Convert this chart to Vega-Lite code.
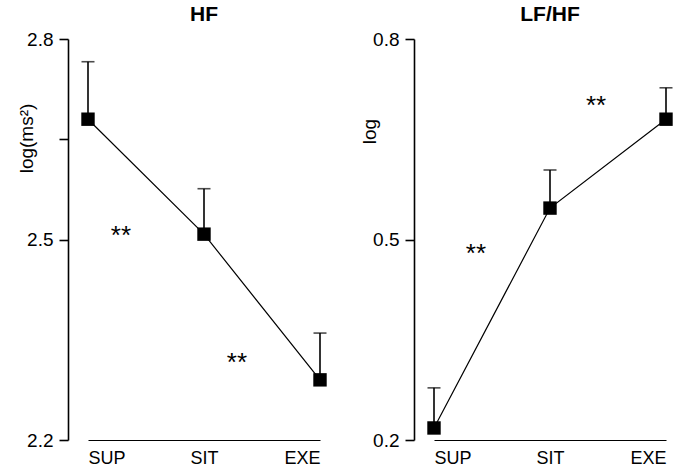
{
  "$schema": "https://vega.github.io/schema/vega-lite/v6.json",
  "padding": {"left": 17, "top": 4, "right": 0, "bottom": 0},
  "config": {
    "view": {"stroke": null},
    "font": "Liberation Sans",
    "concat": {"spacing": 33}
  },
  "datasets": {
    "hf": [
      {"idx": 0, "cond": "SUP", "mean": 2.680, "upper": 2.766},
      {"idx": 1, "cond": "SIT", "mean": 2.508, "upper": 2.576},
      {"idx": 2, "cond": "EXE", "mean": 2.290, "upper": 2.360}
    ],
    "lfhf": [
      {"idx": 0, "cond": "SUP", "mean": 0.218, "upper": 0.278},
      {"idx": 1, "cond": "SIT", "mean": 0.547, "upper": 0.604},
      {"idx": 2, "cond": "EXE", "mean": 0.680, "upper": 0.727}
    ],
    "hfstars": [
      {"pos": 0.284, "val": 2.513, "label": "**"},
      {"pos": 1.284, "val": 2.323, "label": "**"}
    ],
    "lfhfstars": [
      {"pos": 0.362, "val": 0.486, "label": "**"},
      {"pos": 1.397, "val": 0.707, "label": "**"}
    ]
  },
  "hconcat": [
    {
      "width": 232,
      "height": 401,
      "title": {"text": "HF", "fontSize": 21, "fontWeight": "bold", "color": "black", "font": "Liberation Sans", "offset": 5},
      "layer": [
        {
          "data": {"name": "hf"},
          "mark": {"type": "rule", "color": "black", "strokeWidth": 1.6},
          "encoding": {
            "x": {"field": "idx", "type": "quantitative", "scale": {"domain": [0, 2], "nice": false},
              "axis": {"title": null, "grid": false, "values": [0, 1, 2], "labelExpr": "['SUP','SIT','EXE'][datum.value]", "ticks": false, "labelFlush": true, "labelPadding": 9, "domainWidth": 1.2, "domainColor": "black", "labelColor": "black", "labelFontSize": 18, "labelFont": "Liberation Sans"}},
            "y": {"field": "mean", "type": "quantitative", "scale": {"domain": [2.2, 2.8], "nice": false, "zero": false},
              "axis": {"title": "log(ms²)", "grid": false, "values": [2.2, 2.5, 2.65, 2.8], "labelExpr": "datum.value == 2.65 ? '' : format(datum.value, '.1f')", "offset": 20, "tickSize": 9, "labelPadding": 6, "domainWidth": 1.6, "tickWidth": 1.6, "domainColor": "black", "tickColor": "black", "labelColor": "black", "labelFontSize": 19, "labelFont": "Liberation Sans", "titleFontSize": 19, "titleFontWeight": "normal", "titleColor": "black", "titleFont": "Liberation Sans", "titleX": -32, "titleY": 99, "titleAlign": "center", "titleBaseline": "bottom"}},
            "y2": {"field": "upper"}
          }
        },
        {
          "data": {"name": "hf"},
          "mark": {"type": "tick", "color": "black", "thickness": 1.6, "size": 13, "orient": "horizontal"},
          "encoding": {
            "x": {"field": "idx", "type": "quantitative"},
            "y": {"field": "upper", "type": "quantitative"}
          }
        },
        {
          "data": {"name": "hf"},
          "mark": {"type": "line", "color": "black", "strokeWidth": 1.2},
          "encoding": {
            "x": {"field": "idx", "type": "quantitative"},
            "y": {"field": "mean", "type": "quantitative"}
          }
        },
        {
          "data": {"name": "hf"},
          "mark": {"type": "point", "shape": "square", "filled": true, "color": "black", "opacity": 1, "size": 180},
          "encoding": {
            "x": {"field": "idx", "type": "quantitative"},
            "y": {"field": "mean", "type": "quantitative"}
          }
        },
        {
          "data": {"name": "hfstars"},
          "mark": {"type": "text", "fontSize": 26, "font": "Liberation Sans", "color": "black", "baseline": "middle", "align": "center", "dy": 5},
          "encoding": {
            "x": {"field": "pos", "type": "quantitative"},
            "y": {"field": "val", "type": "quantitative"},
            "text": {"field": "label"}
          }
        }
      ]
    },
    {
      "width": 232,
      "height": 401,
      "title": {"text": "LF/HF", "fontSize": 21, "fontWeight": "bold", "color": "black", "font": "Liberation Sans", "offset": 5},
      "layer": [
        {
          "data": {"name": "lfhf"},
          "mark": {"type": "rule", "color": "black", "strokeWidth": 1.6},
          "encoding": {
            "x": {"field": "idx", "type": "quantitative", "scale": {"domain": [0, 2], "nice": false},
              "axis": {"title": null, "grid": false, "values": [0, 1, 2], "labelExpr": "['SUP','SIT','EXE'][datum.value]", "ticks": false, "labelFlush": true, "labelPadding": 9, "domainWidth": 1.2, "domainColor": "black", "labelColor": "black", "labelFontSize": 18, "labelFont": "Liberation Sans"}},
            "y": {"field": "mean", "type": "quantitative", "scale": {"domain": [0.2, 0.8], "nice": false, "zero": false},
              "axis": {"title": "log", "grid": false, "values": [0.2, 0.5, 0.8], "format": ".1f", "offset": 20, "tickSize": 9, "labelPadding": 6, "domainWidth": 1.6, "tickWidth": 1.6, "domainColor": "black", "tickColor": "black", "labelColor": "black", "labelFontSize": 19, "labelFont": "Liberation Sans", "titleFontSize": 19, "titleFontWeight": "normal", "titleColor": "black", "titleFont": "Liberation Sans", "titleX": -35, "titleY": 92, "titleAlign": "center", "titleBaseline": "bottom"}},
            "y2": {"field": "upper"}
          }
        },
        {
          "data": {"name": "lfhf"},
          "mark": {"type": "tick", "color": "black", "thickness": 1.6, "size": 13, "orient": "horizontal"},
          "encoding": {
            "x": {"field": "idx", "type": "quantitative"},
            "y": {"field": "upper", "type": "quantitative"}
          }
        },
        {
          "data": {"name": "lfhf"},
          "mark": {"type": "line", "color": "black", "strokeWidth": 1.2},
          "encoding": {
            "x": {"field": "idx", "type": "quantitative"},
            "y": {"field": "mean", "type": "quantitative"}
          }
        },
        {
          "data": {"name": "lfhf"},
          "mark": {"type": "point", "shape": "square", "filled": true, "color": "black", "opacity": 1, "size": 180},
          "encoding": {
            "x": {"field": "idx", "type": "quantitative"},
            "y": {"field": "mean", "type": "quantitative"}
          }
        },
        {
          "data": {"name": "lfhfstars"},
          "mark": {"type": "text", "fontSize": 26, "font": "Liberation Sans", "color": "black", "baseline": "middle", "align": "center", "dy": 5},
          "encoding": {
            "x": {"field": "pos", "type": "quantitative"},
            "y": {"field": "val", "type": "quantitative"},
            "text": {"field": "label"}
          }
        }
      ]
    }
  ]
}
